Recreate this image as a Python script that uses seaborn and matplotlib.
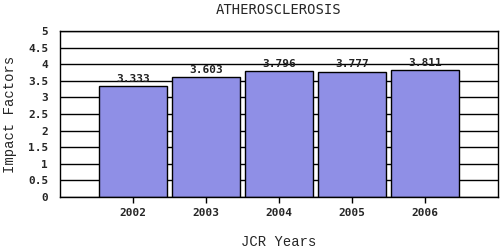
import matplotlib
matplotlib.use("Agg")
import matplotlib.pyplot as plt
import seaborn as sns
import pandas as pd

years = ["2002", "2003", "2004", "2005", "2006"]
impact = [3.333, 3.603, 3.796, 3.777, 3.811]
labels = ["3.333", "3.603", "3.796", "3.777", "3.811"]
yticks = [0, 0.5, 1, 1.5, 2, 2.5, 3, 3.5, 4, 4.5, 5]
ytick_labels = ["0", "0.5", "1", "1.5", "2", "2.5", "3", "3.5", "4", "4.5", "5"]

sns.set_style("white")
plt.rcParams["font.family"] = ["DejaVu Sans Mono", "DejaVu Sans"]

df = pd.DataFrame({"year": years, "impact": impact})

fig = plt.figure(figsize=(5, 2.5), dpi=100)
ax = fig.add_axes([0.12, 0.212, 0.876, 0.664])
ax.set_axisbelow(True)
for y in yticks:
    ax.axhline(y, color="black", lw=1, zorder=0)

sns.barplot(data=df, x="year", y="impact", color="#8f8fe6", saturation=1,
            width=0.92, edgecolor="black", linewidth=1, ax=ax, zorder=2)

for i, (v, t) in enumerate(zip(impact, labels)):
    ax.text(i, v + 0.07, t, ha="center", va="bottom", fontsize=8,
            fontweight="bold", color="#222222")

ax.set_xlim(-1, 5)
ax.set_ylim(0, 5)
ax.set_yticks(yticks)
ax.set_yticklabels(ytick_labels, fontsize=8, fontweight="bold")
ax.set_xticklabels(years, fontsize=8, fontweight="bold")
ax.tick_params(axis="x", bottom=True, length=4, width=1, color="black", pad=4)
ax.tick_params(axis="y", left=False, pad=5)
for s in ax.spines.values():
    s.set_color("black")
    s.set_linewidth(1)
ax.set_xlabel("JCR Years", fontsize=10, labelpad=12, family="Liberation Mono")
ax.set_ylabel("Impact Factors", fontsize=10, labelpad=8, family="Liberation Mono")
ax.set_title("ATHEROSCLEROSIS", fontsize=10, pad=12, x=0.5)

fig.savefig("out.png", dpi=100)
